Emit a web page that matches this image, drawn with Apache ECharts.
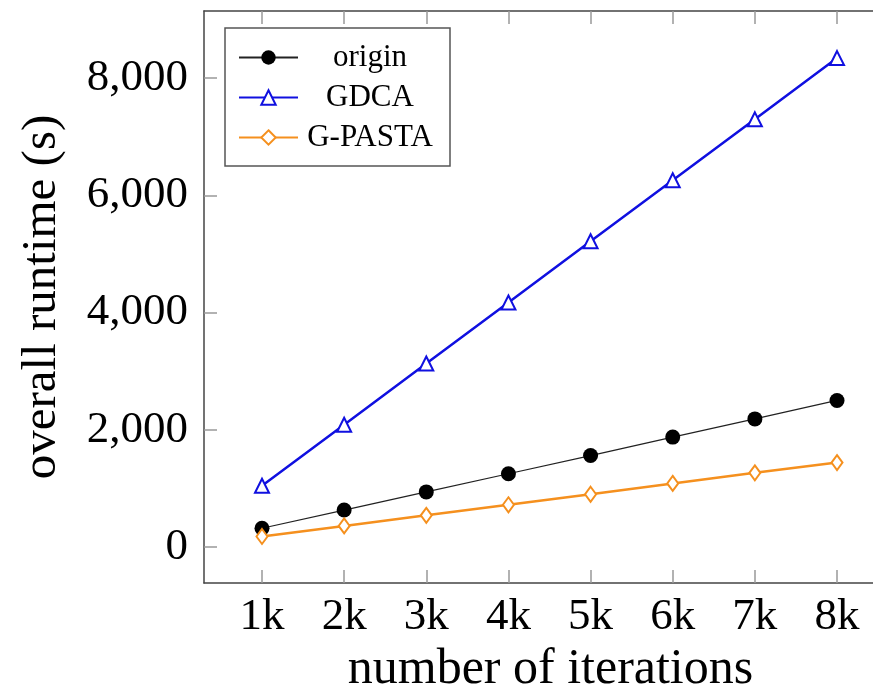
<!DOCTYPE html>
<html>
<head>
<meta charset="utf-8">
<script src="https://cdn.jsdelivr.net/npm/echarts@6/dist/echarts.min.js"></script>
<style>
  html, body { margin: 0; padding: 0; background: #fff; }
  #chart { width: 873px; height: 691px; }
</style>
</head>
<body>
<div id="chart"></div>
<script>
// iterations in thousands
var iterations = [1, 2, 3, 4, 5, 6, 7, 8];
var origin = [320, 630, 940, 1250, 1560, 1875, 2185, 2500];
var gdca = [1045, 2085, 3130, 4170, 5215, 6255, 7295, 8340];
var gpasta = [180, 360, 540, 720, 900, 1085, 1265, 1440];
var yTicks = [0, 2000, 4000, 6000, 8000];

var font = 'Liberation Serif';

function pairs(vals) {
  return iterations.map(function (x, i) { return [x, vals[i]]; });
}

var myChart = echarts.init(document.getElementById('chart'));

var xMin = 0.294, xMax = 8.438;

var option = {
  backgroundColor: '#fff',
  animation: false,
  textStyle: { fontFamily: font, color: '#000' },
  grid: { left: 204, top: 11, bottom: 108, right: 0, containLabel: false, outerBoundsMode: 'none' },
  legend: {
    orient: 'vertical',
    left: 225,
    top: 28,
    padding: [14, 13, 13, 13],
    itemGap: 9,
    itemWidth: 59,
    itemHeight: 18,
    borderColor: '#555',
    borderWidth: 1.5,
    backgroundColor: '#fff',
    formatter: '{a|{name}}',
    data: ['origin', 'GDCA', 'G-PASTA'],
    textStyle: {
      fontFamily: font, fontSize: 31, color: '#000',
      rich: { a: { width: 134, align: 'center', fontFamily: font, fontSize: 31, lineHeight: 30 } }
    }
  },
  xAxis: [{
    type: 'value',
    min: xMin,
    max: xMax,
    name: 'number of iterations',
    nameLocation: 'middle',
    nameGap: 62,
    nameTextStyle: { fontFamily: font, fontSize: 50, color: '#000', padding: [0, 0, 0, 24] },
    splitLine: { show: false },
    axisLine: { show: true, onZero: false, lineStyle: { color: '#444', width: 1.5 } },
    axisTick: { show: true, inside: true, length: 13, customValues: iterations, lineStyle: { color: '#999', width: 1.5 } },
    axisLabel: {
      customValues: iterations, margin: 12,
      fontFamily: font, fontSize: 45, color: '#000',
      formatter: function (v) { return v + 'k'; }
    }
  }, {
    type: 'value',
    position: 'top',
    min: xMin,
    max: xMax,
    splitLine: { show: false },
    axisLine: { show: true, onZero: false, lineStyle: { color: '#444', width: 1.5 } },
    axisTick: { show: true, inside: true, length: 13, customValues: iterations, lineStyle: { color: '#999', width: 1.5 } },
    axisLabel: { show: false }
  }],
  yAxis: {
    type: 'value',
    min: -614,
    max: 9143,
    name: 'overall runtime (s)',
    nameLocation: 'middle',
    nameGap: 137,
    nameTextStyle: { fontFamily: font, fontSize: 49, color: '#000' },
    splitLine: { show: false },
    axisLine: { show: true, onZero: false, lineStyle: { color: '#444', width: 1.5 } },
    axisTick: { show: true, inside: true, length: 13, customValues: yTicks, lineStyle: { color: '#999', width: 1.5 } },
    axisLabel: {
      customValues: yTicks, margin: 16,
      fontFamily: font, fontSize: 45, color: '#000',
      formatter: function (v) { return v.toLocaleString('en-US'); }
    }
  },
  series: [{
    name: 'origin',
    type: 'line',
    data: pairs(origin),
    symbol: 'circle',
    symbolSize: 15,
    itemStyle: { color: '#000' },
    lineStyle: { color: '#222', width: 1.2 },
    z: 3
  }, {
    name: 'GDCA',
    type: 'line',
    data: pairs(gdca),
    symbol: 'emptyTriangle',
    symbolSize: 14,
    itemStyle: { color: '#1010e0', borderColor: '#1010e0', borderWidth: 2 },
    lineStyle: { color: '#1010e0', width: 2.5 },
    z: 2
  }, {
    name: 'G-PASTA',
    type: 'line',
    data: pairs(gpasta),
    symbol: 'emptyDiamond',
    symbolSize: [11, 15],
    itemStyle: { color: '#f5901e', borderColor: '#f5901e', borderWidth: 2 },
    lineStyle: { color: '#f5901e', width: 2.5 },
    z: 4
  }]
};

myChart.setOption(option);
</script>
</body>
</html>
